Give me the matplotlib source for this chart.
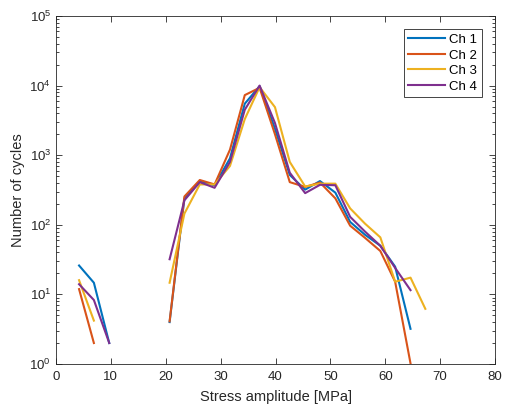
import matplotlib
matplotlib.use("Agg")
import matplotlib.pyplot as plt
import numpy as np
from matplotlib.ticker import LogLocator, NullFormatter

plt.rcParams['font.family'] = ['Liberation Sans', 'DejaVu Sans']

# bin centres of the stress amplitude histogram [MPa]
stress = [4.2, 6.9, 9.7, 12.4, 15.2, 17.9, 20.7, 23.4, 26.2, 28.9, 31.7, 34.4,
          37.1, 39.9, 42.6, 45.4, 48.1, 50.9, 53.6, 56.3, 59.1, 61.8, 64.6, 67.3]

nan = np.nan
# cycle counts per channel (nan = empty bin, not drawn on log axis)
ch1 = [26, 14.7, 2, nan, nan, nan, 4, 240, 420, 370, 900, 5500,
       9800, 2400, 520, 320, 425, 290, 110, 72, 50, 25, 3.2, nan]
ch2 = [11.9, 2, nan, nan, nan, nan, 4.1, 255, 440, 380, 1200, 7300,
       9300, 2000, 410, 350, 405, 240, 97, 65, 42, 15.2, 1.02, nan]
ch3 = [16, 4.2, nan, nan, nan, nan, 14.7, 145, 380, 380, 700, 3300,
       9500, 4900, 800, 355, 390, 390, 172, 104, 66, 15.2, 17.4, 6.2]
ch4 = [14, 8.3, 2, nan, nan, nan, 32, 225, 410, 340, 800, 4500,
       10000, 2900, 560, 285, 375, 370, 130, 80, 50, 24, 11.5, nan]

channels = [ch1, ch2, ch3, ch4]
names = ["Ch 1", "Ch 2", "Ch 3", "Ch 4"]
colors = ["#0072BD", "#D95319", "#EDB120", "#7E2F8E"]

fig = plt.figure(figsize=(5.06, 4.07), dpi=100)
ax = fig.add_axes([0.1107, 0.1057, 0.8676, 0.855])

for vals, name, c in zip(channels, names, colors):
    ax.plot(stress, vals, color=c, linewidth=1.5, label=name)

ax.set_yscale("log")
ax.set_xlim(0, 80)
ax.set_ylim(1, 1e5)
ax.set_xticks(np.arange(0, 81, 10))
ax.yaxis.set_major_locator(LogLocator(base=10, numticks=10))
ax.yaxis.set_minor_locator(LogLocator(base=10, subs=np.arange(2, 10), numticks=10))
ax.yaxis.set_minor_formatter(NullFormatter())

ax.tick_params(which="both", direction="in", top=True, right=True,
               labelsize=9.5, colors="#262626", width=0.6)
ax.tick_params(axis="x", pad=5)
ax.tick_params(which="major", length=4)
ax.tick_params(which="minor", length=2.2)
for s in ax.spines.values():
    s.set_linewidth(0.6)
    s.set_color("#262626")

ax.set_xlabel("Stress amplitude [MPa]", fontsize=10.5, color="#262626", labelpad=5)
ax.set_ylabel("Number of cycles", fontsize=10.5, color="#262626", labelpad=3)

leg = ax.legend(loc="upper right", fontsize=9.5, fancybox=False, framealpha=1,
                edgecolor="#262626", handlelength=2.8, borderpad=0.35,
                labelspacing=0.25, borderaxespad=1.0, handletextpad=0.3)
leg.get_frame().set_linewidth(0.6)

plt.savefig("out.png")
